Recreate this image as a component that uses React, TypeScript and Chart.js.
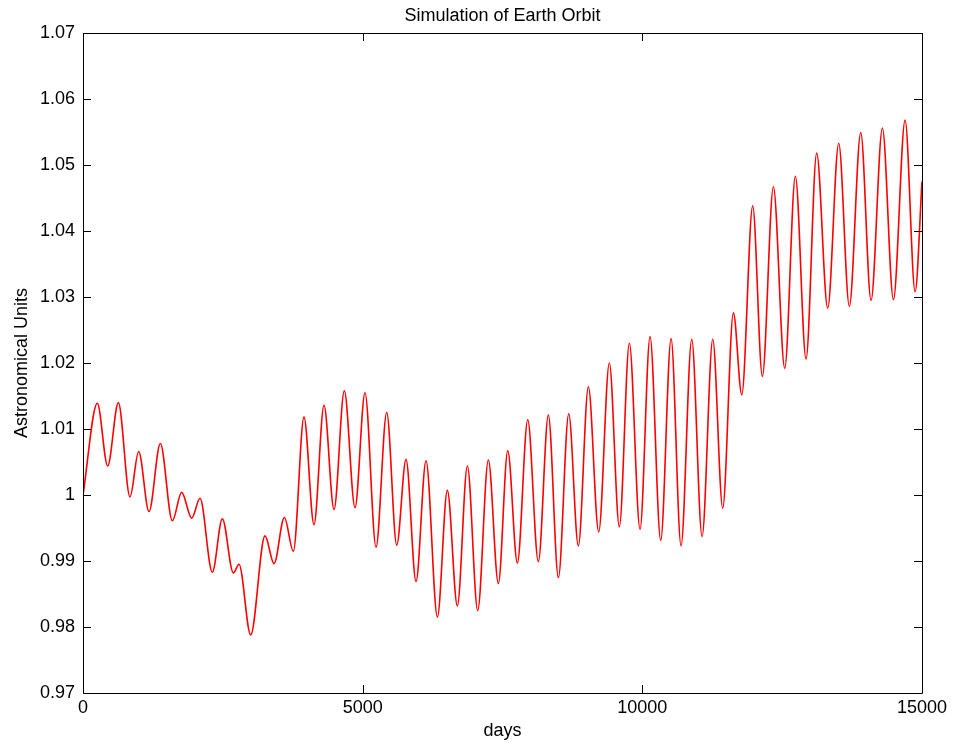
import React, { useEffect, useRef } from "react";
import { Chart, registerables } from "chart.js";

Chart.register(...registerables);

// Extrema of the orbit trace (day, distance in AU)
const days = [
  0, 256, 441, 632, 840, 995, 1180, 1383, 1597, 1764, 1943, 2092, 2312, 2491, 2688, 2789,
  2998, 3254, 3415, 3600, 3761, 3951, 4130, 4309, 4488, 4672, 4863, 5042, 5239, 5430, 5609,
  5775, 5954, 6133, 6336, 6514, 6693, 6872, 7057, 7247, 7426, 7594, 7766, 7951, 8141, 8320,
  8499, 8684, 8856, 9035, 9220, 9410, 9589, 9768, 9959, 10138, 10329, 10514, 10692, 10883,
  11068, 11259, 11437, 11628, 11778, 11973, 12146, 12343, 12546, 12736, 12927, 13117, 13314,
  13511, 13701, 13905, 14089, 14292, 14489, 14698, 14877, 15000,
];
const au = [
  1.0, 1.0139, 1.0044, 1.014, 0.9997, 1.0066, 0.9975, 1.0078, 0.9961, 1.0004, 0.9965, 0.9995,
  0.9883, 0.9964, 0.9882, 0.9895, 0.9788, 0.9938, 0.9896, 0.9966, 0.9915, 1.0118, 0.9955,
  1.0136, 0.9978, 1.0158, 0.9981, 1.0155, 0.9921, 1.0125, 0.9924, 1.0054, 0.9869, 1.0052,
  0.9815, 1.0007, 0.9832, 1.0044, 0.9825, 1.0053, 0.9866, 1.0067, 0.9897, 1.0114, 0.9899,
  1.0121, 0.9875, 1.0123, 0.9923, 1.0164, 0.9944, 1.02, 0.9952, 1.023, 0.9948, 1.024, 0.9931,
  1.0237, 0.9923, 1.0236, 0.9937, 1.0236, 0.998, 1.0276, 1.0152, 1.0438, 1.018, 1.0467, 1.0192,
  1.0483, 1.0206, 1.0518, 1.0283, 1.0533, 1.0286, 1.0549, 1.0295, 1.0556, 1.0296, 1.0568,
  1.0308, 1.0475,
];

const xTicks = [0, 5000, 10000, 15000];
const yMin = 0.97;
const yMax = 1.07;
const titleText = "Simulation of Earth Orbit";
const xTitle = "days";
const yTitle = "Astronomical Units";

const FONT = "'Liberation Sans', Arial, Helvetica, sans-serif";

const boxPlugin = {
  id: "matlabBox",
  afterDraw(chart: any) {
    const { ctx, chartArea } = chart;
    const { left, right, top, bottom } = chartArea;
    const xs = chart.scales.x;
    const ys = chart.scales.y;
    const tl = 8;
    ctx.save();
    ctx.strokeStyle = "#000";
    ctx.lineWidth = 1;
    ctx.beginPath();
    ctx.rect(Math.round(left) + 0.5, Math.round(top) + 0.5, Math.round(right - left), Math.round(bottom - top));
    xs.ticks.forEach((t: any) => {
      const px = Math.round(xs.getPixelForValue(t.value)) + 0.5;
      ctx.moveTo(px, bottom);
      ctx.lineTo(px, bottom - tl);
      ctx.moveTo(px, top);
      ctx.lineTo(px, top + tl);
    });
    ys.ticks.forEach((t: any) => {
      const py = Math.round(ys.getPixelForValue(t.value)) + 0.5;
      ctx.moveTo(left, py);
      ctx.lineTo(left + tl, py);
      ctx.moveTo(right, py);
      ctx.lineTo(right - tl, py);
    });
    ctx.stroke();
    ctx.restore();
  },
};

export default function App() {
  const ref = useRef<HTMLCanvasElement | null>(null);

  useEffect(() => {
    document.body.style.margin = "0";
    const canvas = ref.current;
    if (!canvas) return;
    const chart = new Chart(canvas, {
      type: "line",
      data: {
        datasets: [
          {
            data: days.map((d, i) => ({ x: d, y: au[i] })),
            borderColor: "#ff0000",
            borderWidth: 1.6,
            pointRadius: 0,
            fill: false,
            cubicInterpolationMode: "monotone",
          },
        ],
      },
      options: {
        animation: false,
        responsive: false,
        devicePixelRatio: 1,
        layout: { padding: { top: 0, right: 32, bottom: 0, left: 0 } },
        plugins: {
          legend: { display: false },
          tooltip: { enabled: false },
          title: {
            display: true,
            fullSize: false,
            text: titleText,
            color: "#000",
            font: { family: FONT, size: 18, weight: "normal" },
            padding: { top: 5.2, bottom: 6.2 },
          },
        },
        scales: {
          x: {
            type: "linear",
            min: 0,
            max: 15000,
            afterBuildTicks: (scale: any) => {
              scale.ticks = xTicks.map((v) => ({ value: v }));
            },
            ticks: {
              color: "#000",
              font: { family: FONT, size: 18 },
              padding: 4,
              maxRotation: 0,
              autoSkip: false,
              callback: (v: any) => String(v),
            },
            grid: { display: false, drawTicks: false },
            border: { display: false },
            title: {
              display: true,
              text: xTitle,
              color: "#000",
              font: { family: FONT, size: 18 },
              padding: { top: 0, bottom: 5 },
            },
            afterFit: (scale: any) => {
              scale.height = 54;
            },
          },
          y: {
            type: "linear",
            min: yMin,
            max: yMax,
            ticks: {
              stepSize: 0.01,
              color: "#000",
              font: { family: FONT, size: 18 },
              padding: 8,
              autoSkip: false,
              callback: (v: any) => (Math.abs(v - 1) < 1e-9 ? "1" : Number(v).toFixed(2)),
            },
            grid: { display: false, drawTicks: false },
            border: { display: false },
            title: {
              display: true,
              text: yTitle,
              color: "#000",
              font: { family: FONT, size: 18 },
              padding: { top: 11, bottom: 0 },
            },
            afterFit: (scale: any) => {
              scale.width = 83;
            },
          },
        },
      },
      plugins: [boxPlugin],
    });
    return () => chart.destroy();
  }, []);

  return (
    <div style={{ position: "absolute", left: 0, top: 0, width: 954, height: 747, background: "#fff" }}>
      <canvas ref={ref} width={954} height={747} style={{ display: "block" }} />
    </div>
  );
}
